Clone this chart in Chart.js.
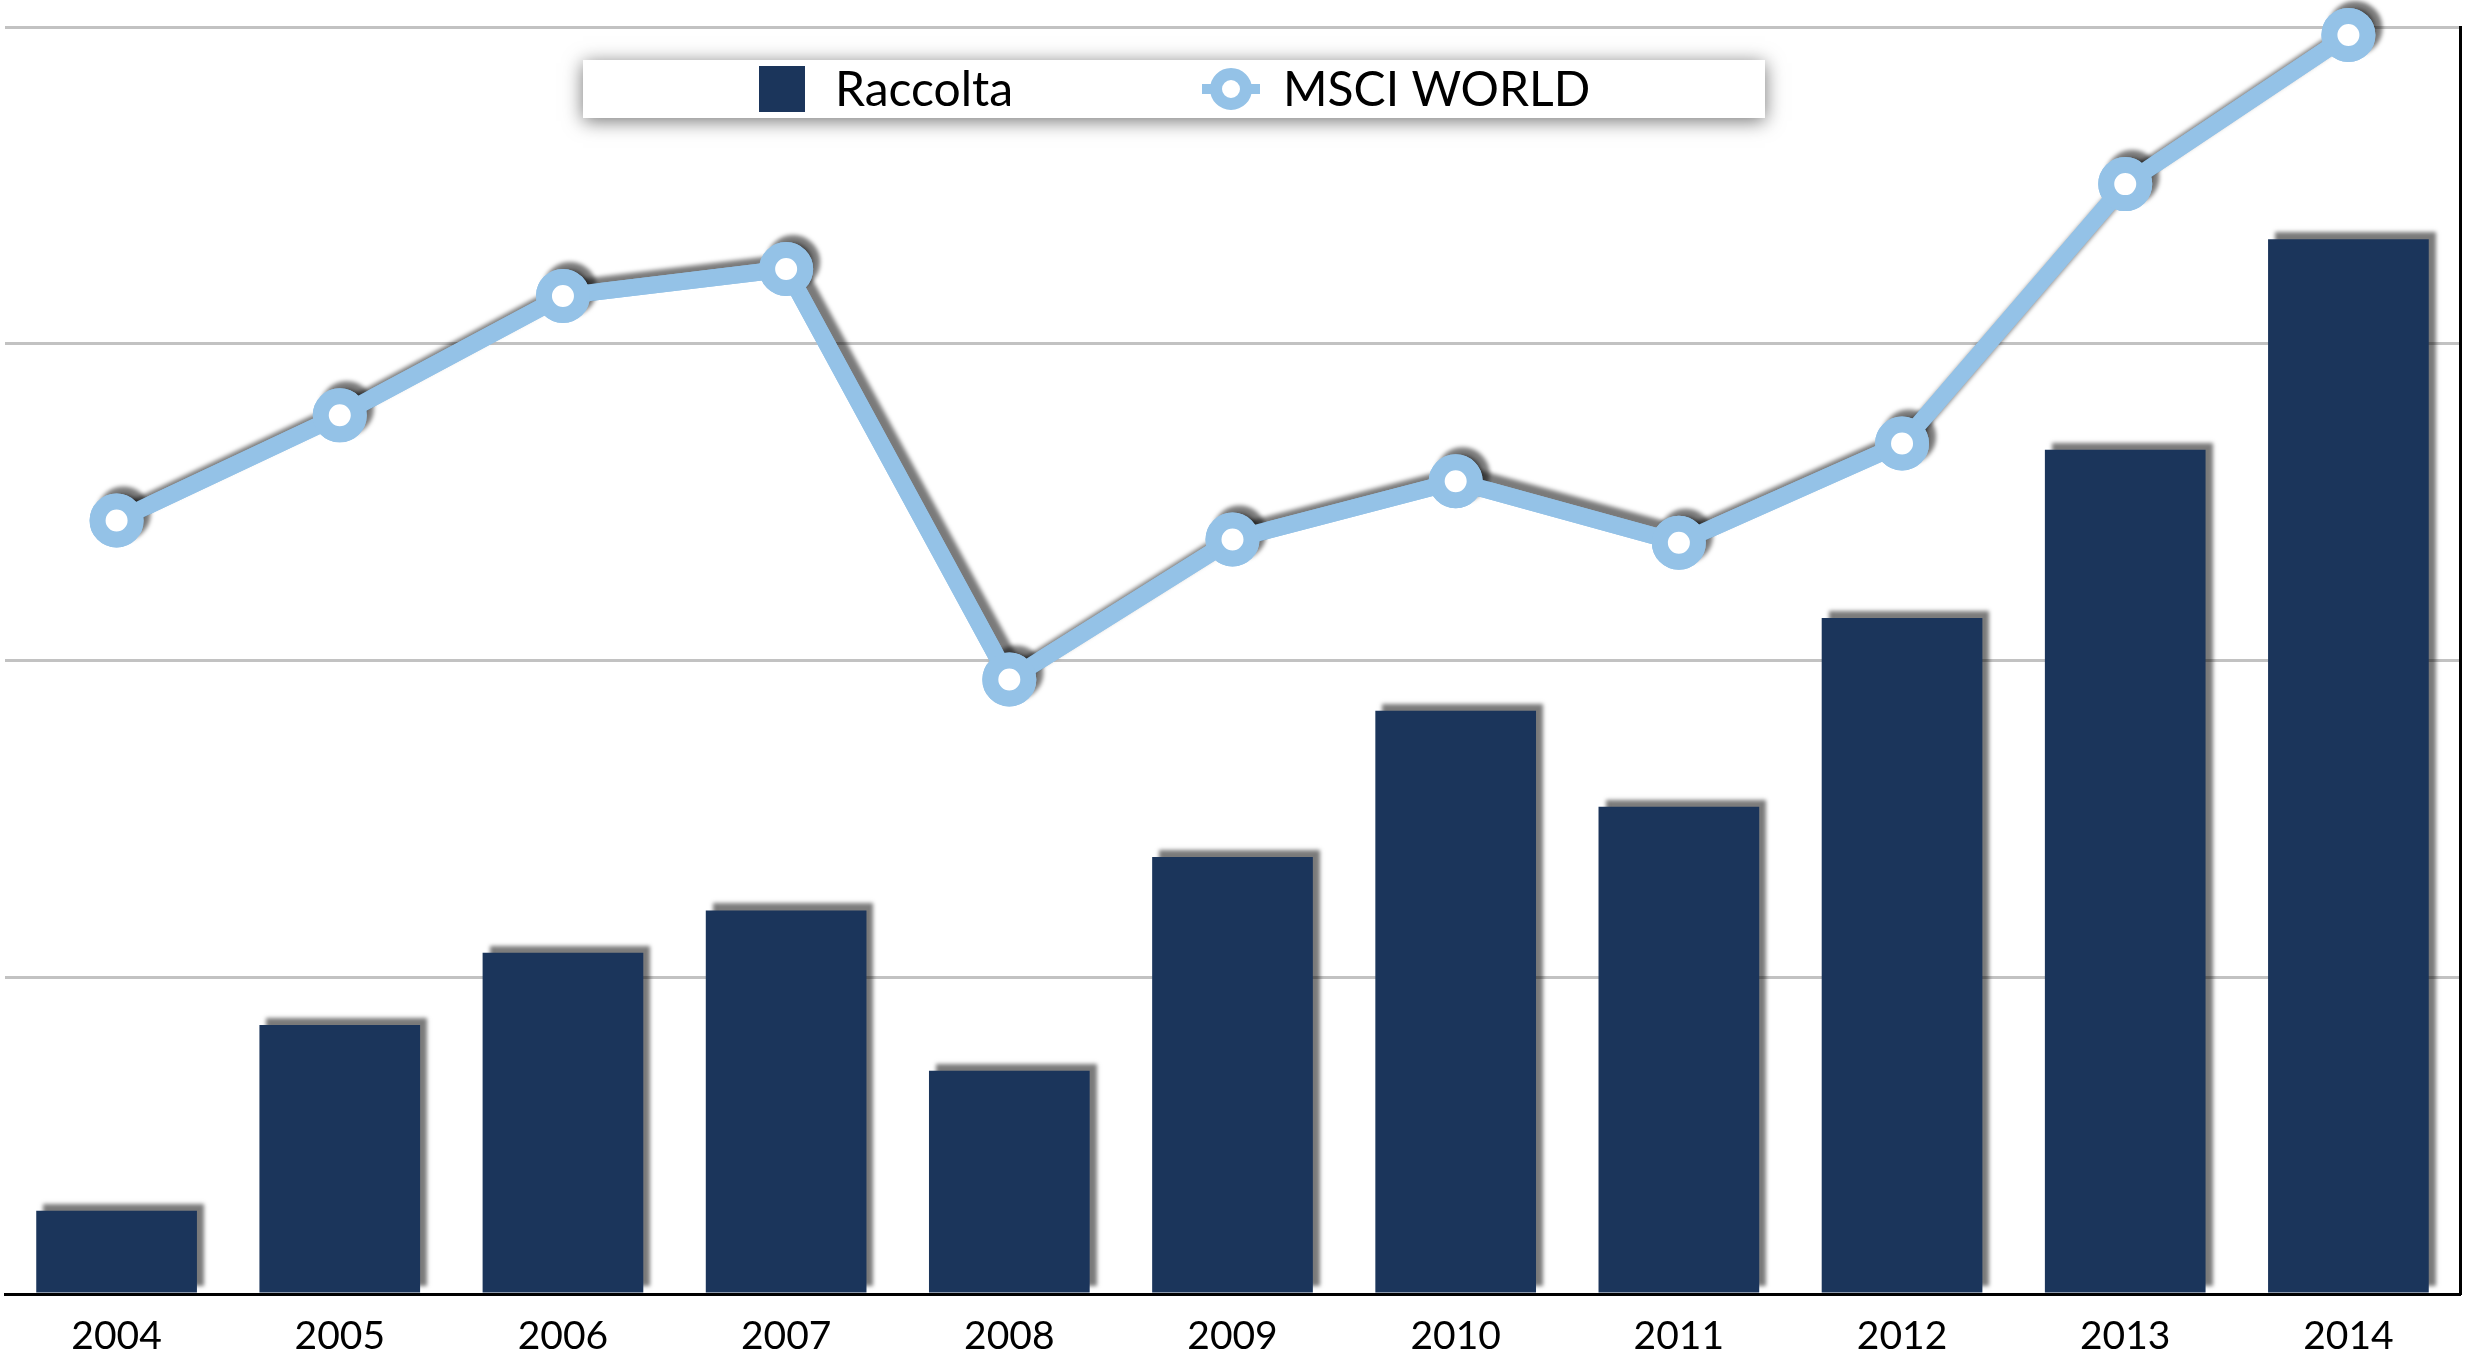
<!DOCTYPE html>
<html>
<head>
<meta charset="utf-8">
<script src="https://cdn.jsdelivr.net/npm/chart.js@4.4.1/dist/chart.umd.min.js"></script>
<style>
  html, body { margin: 0; padding: 0; background: #fff; }
</style>
</head>
<body>
<canvas id="chart" width="2465" height="1363"></canvas>
<script>
// Valori (unità relative, griglia ogni 100)
const years = ['2004', '2005', '2006', '2007', '2008', '2009', '2010', '2011', '2012', '2013', '2014'];
const raccolta = [26.3, 84.9, 107.7, 121.1, 70.5, 138.0, 184.1, 153.8, 213.4, 266.5, 333.0];
const msciWorld = [244.2, 277.4, 315.1, 323.6, 194.0, 238.2, 256.6, 237.2, 268.5, 350.4, 397.5];
const gridTicks = [0, 100, 200, 300, 400];

const NAVY = '#1b355b';
const LIGHT_BLUE = '#94c2e7';
const FONT = 'Lato';

// ombra sotto barre e linea
const dropShadow = {
    id: 'dropShadow',
    beforeDatasetDraw(chart) {
        const ctx = chart.ctx;
        ctx.save();
        ctx.shadowColor = 'rgba(0, 0, 0, 0.52)';
        ctx.shadowBlur = 4;
        ctx.shadowOffsetX = 7;
        ctx.shadowOffsetY = -7;
    },
    afterDatasetDraw(chart, args) {
        const ctx = chart.ctx;
        ctx.restore();
        // ridisegno la linea senza ombra, così l'ombra resta solo dietro
        const meta = args.meta;
        if (meta.type === 'line') {
            const area = { left: 0, top: 0, right: chart.width, bottom: chart.height };
            meta.dataset.draw(ctx, area);
            meta.data.forEach(p => p.draw(ctx, area));
        }
    }
};

// legenda nel riquadro bianco con ombra
const legendBox = {
    id: 'legendBox',
    afterDraw(chart) {
        const ctx = chart.ctx;
        const bar = chart.data.datasets[0];
        const line = chart.data.datasets[1];
        ctx.save();
        ctx.shadowColor = 'rgba(0, 0, 0, 0.55)';
        ctx.shadowBlur = 18;
        ctx.shadowOffsetY = 3;
        ctx.fillStyle = '#fff';
        ctx.fillRect(583, 60, 1182, 58);
        ctx.restore();

        ctx.save();
        const cy = 89;
        ctx.fillStyle = bar.backgroundColor;
        ctx.fillRect(759, cy - 23, 46, 46);

        ctx.strokeStyle = line.borderColor;
        ctx.lineWidth = 10;
        ctx.beginPath();
        ctx.moveTo(1202, cy);
        ctx.lineTo(1260, cy);
        ctx.stroke();
        ctx.beginPath();
        ctx.arc(1231, cy, 15, 0, Math.PI * 2);
        ctx.fillStyle = '#fff';
        ctx.fill();
        ctx.lineWidth = 12;
        ctx.stroke();

        ctx.fillStyle = '#000';
        ctx.font = `48px ${FONT}`;
        ctx.textBaseline = 'middle';
        ctx.fillText(bar.label, 835, cy + 2);
        ctx.fillText(line.label, 1283, cy + 2);
        ctx.restore();
    }
};

const ctx = document.getElementById('chart').getContext('2d');
new Chart(ctx, {
    data: {
        labels: years,
        datasets: [{
            type: 'bar',
            label: 'Raccolta',
            data: raccolta,
            backgroundColor: NAVY,
            yAxisID: 'y',
            order: 1,
            barPercentage: 0.72,
            categoryPercentage: 1.0,
            clip: false
        }, {
            type: 'line',
            label: 'MSCI WORLD',
            data: msciWorld,
            borderColor: LIGHT_BLUE,
            borderWidth: 17,
            pointRadius: 19,
            pointBorderWidth: 16,
            pointBackgroundColor: '#fff',
            pointBorderColor: LIGHT_BLUE,
            tension: 0,
            yAxisID: 'y1',
            order: 0,
            clip: false
        }]
    },
    options: {
        responsive: false,
        animation: false,
        events: [],
        devicePixelRatio: 1,
        layout: { autoPadding: false, padding: { top: 27, right: 5, bottom: 0, left: 5 } },
        plugins: {
            legend: { display: false },
            tooltip: { enabled: false }
        },
        scales: {
            x: {
                grid: { display: false },
                border: { display: true, color: '#000', width: 3 },
                ticks: {
                    color: '#000',
                    font: { family: FONT, size: 39 },
                    padding: 11,
                    maxRotation: 0,
                    autoSkip: false
                },
                afterFit: s => { s.height = 69; }
            },
            y: {
                position: 'left',
                min: 0,
                max: 400,
                afterBuildTicks: s => { s.ticks = gridTicks.map(v => ({ value: v })); },
                ticks: { display: false },
                border: { display: false },
                grid: {
                    drawTicks: false,
                    lineWidth: 3,
                    color: c => (c.tick && c.tick.value === 0) ? 'rgba(0,0,0,0)' : '#c2c2c2'
                },
                afterFit: s => { s.width = 0; }
            },
            y1: {
                position: 'right',
                min: 0,
                max: 400,
                ticks: { display: false },
                grid: { display: false, drawTicks: false },
                border: { display: true, color: '#000', width: 3 },
                afterFit: s => { s.width = 0; }
            }
        }
    },
    plugins: [dropShadow, legendBox]
});
</script>
</body>
</html>
